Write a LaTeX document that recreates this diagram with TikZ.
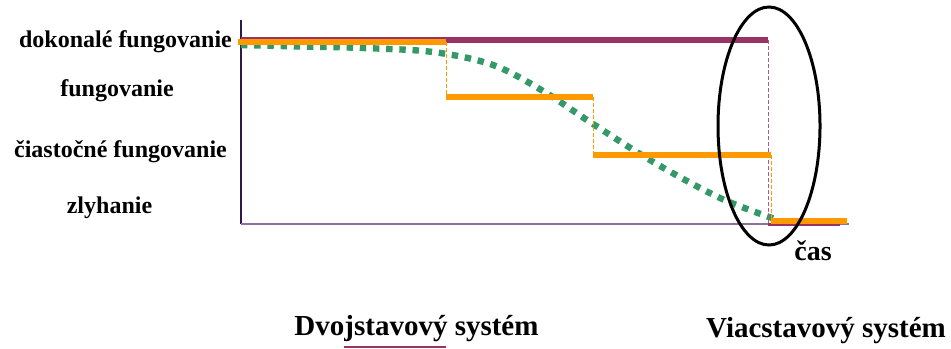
\documentclass[tikz,border=0pt]{standalone}
\usepackage{fontspec}
\setmainfont{Liberation Serif}
\definecolor{perfect}{HTML}{993366}
\definecolor{multi}{HTML}{FF9900}
\definecolor{trend}{HTML}{339966}
\definecolor{axisv}{HTML}{2E1A47}
\definecolor{axish}{HTML}{8E6FA0}
\tikzset{
  lbl/.style={anchor=base, inner sep=0pt, font=\bfseries\fontsize{12}{14}\selectfont},
  caption/.style={anchor=base, inner sep=0pt, font=\bfseries\fontsize{14.5}{17}\selectfont},
  stateline/.style={line width=3pt, multi},
  binline/.style={line width=2.6pt, perfect},
  drop/.style={line width=0.5pt, multi, dash pattern=on 2pt off 1pt},
  bindrop/.style={line width=0.5pt, perfect!80, dash pattern=on 2pt off 1pt},
  trendline/.style={line width=3.2pt, trend, dash pattern=on 3.2pt off 3.4pt},
}
\begin{document}
\begin{tikzpicture}[x=0.5pt, y=-0.5pt]
\useasboundingbox (0,0) rectangle (951,348);

% state labels
\node[lbl] (s1) at (125.5,47) {dokonalé fungovanie};
\node[lbl] (s2) at (117,96) {fungovanie};
\node[lbl] (s3) at (120.5,157) {čiastočné fungovanie};
\node[lbl] (s4) at (109.5,213) {zlyhanie};

% axes
\coordinate (o) at (241,224);
\draw[axisv, line width=0.6pt] (241,20) -- (o);
\draw[axish, line width=0.8pt] (o) -- (849,224);

% gradual degradation
\draw[trendline] plot[smooth, tension=0.55] coordinates {
  (241,45) (300,46.5) (363,48) (433,52) (493,65) (543,91) (593,124)
  (655,163) (720,198) (775,219)};

% two-state system
\draw[binline] (241,40) -- (768,40);
\draw[bindrop] (768,40) -- (768,224);
\draw[perfect, line width=1.6pt] (768,224.5) -- (840,224.5);

% multi-state system
\draw[stateline] (238,42) -- (446,42);
\draw[drop] (446,42) -- (446,97);
\draw[stateline] (446,97) -- (593,97);
\draw[drop] (593,97) -- (593,155);
\draw[stateline] (593,155) -- (771,155);
\draw[drop] (771,155) -- (771,221);
\draw[stateline] (771,221) -- (847,221);

% highlighted region
\draw[black, line width=1.5pt] (769,126) ellipse [x radius=51, y radius=119];

% captions
\node[caption, font=\bfseries\fontsize{14}{17}\selectfont] (t) at (813,260) {čas};
\node[caption] (c1) at (416.5,335) {Dvojstavový systém};
\node[caption] (c2) at (826,337) {Viacstavový systém};
\draw[perfect, line width=0.8pt] (344,347) -- (446,347);
\end{tikzpicture}
\end{document}
